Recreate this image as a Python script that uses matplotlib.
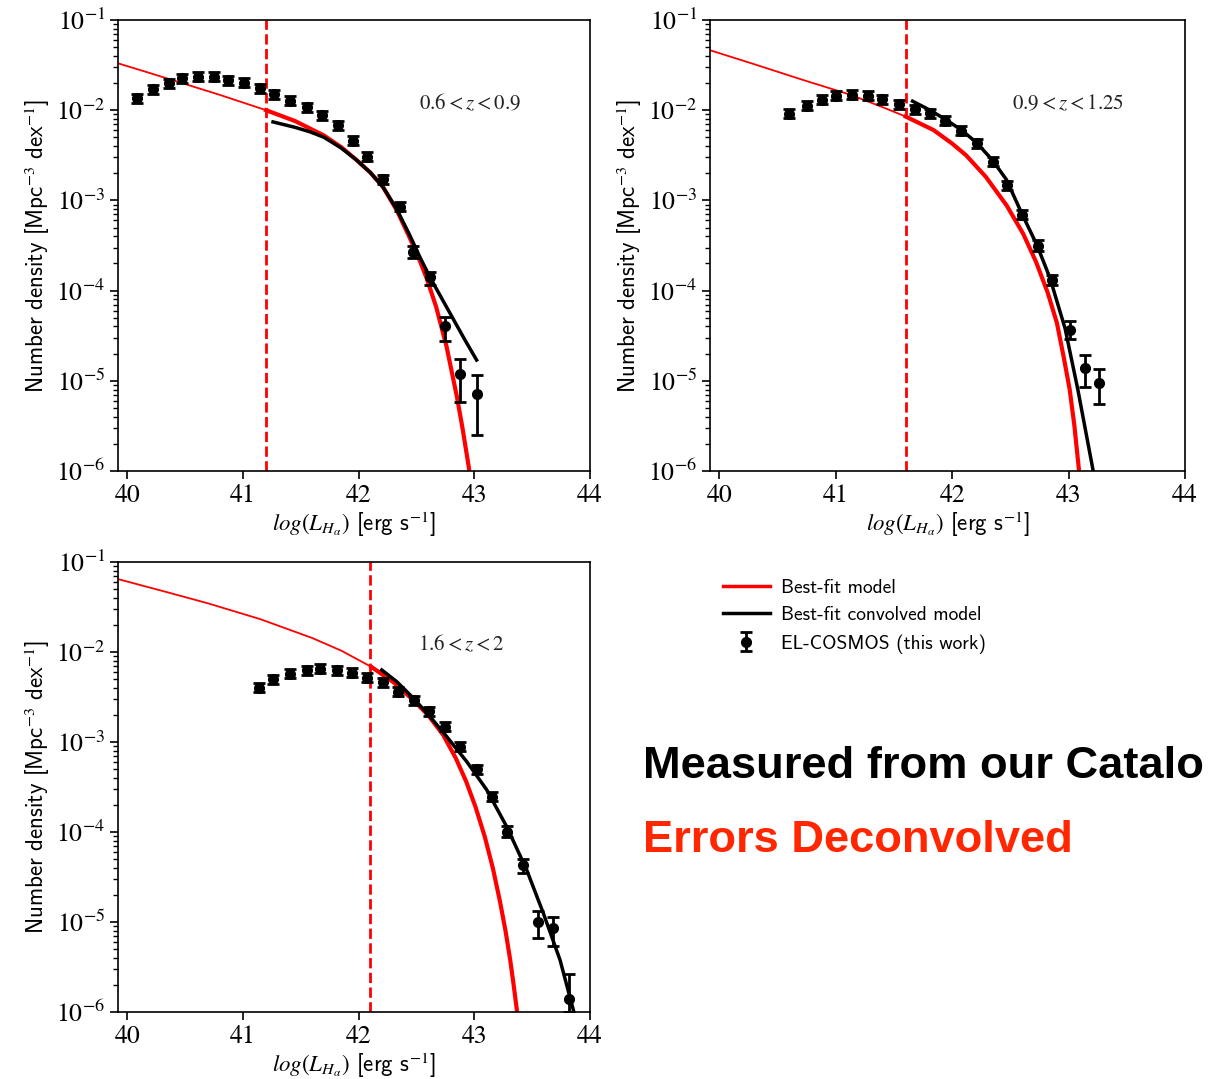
import numpy as np
import matplotlib
matplotlib.use('Agg')
import matplotlib.pyplot as plt
from matplotlib.lines import Line2D

plt.rcParams['font.family'] = ['STIXGeneral', 'DejaVu Sans']
plt.rcParams['mathtext.fontset'] = 'stix'

# ---------------- data ----------------
# Panel 1: 0.6 < z < 0.9
x1 = [40.08, 40.22, 40.36, 40.47, 40.61, 40.75, 40.87, 41.01, 41.15, 41.27, 41.41, 41.55,
      41.68, 41.82, 41.95, 42.07, 42.21, 42.36, 42.47, 42.62, 42.75, 42.88, 43.02]
phi1 = [1.36e-2, 1.71e-2, 1.99e-2, 2.26e-2, 2.35e-2, 2.35e-2, 2.16e-2, 2.02e-2, 1.75e-2,
        1.51e-2, 1.27e-2, 1.08e-2, 8.8e-3, 6.85e-3, 4.56e-3, 3.05e-3, 1.71e-3, 8.5e-4,
        2.66e-4, 1.41e-4, 4.1e-5, 1.19e-5, 7.1e-6]
err1_lo_dex = [0.05] * 18 + [0.065, 0.09, 0.166, 0.313, 0.451]
err1_hi_dex = [0.05] * 18 + [0.065, 0.06, 0.10, 0.167, 0.214]
model1_x = [39.92, 40.2, 40.5, 40.8, 41.0, 41.2, 41.45, 41.7, 41.85, 41.98, 42.1, 42.21,
            42.33, 42.44, 42.52, 42.59, 42.67, 42.76, 42.85, 42.90, 42.95, 42.97]
model1_logphi = [-1.48, -1.59, -1.71, -1.83, -1.915, -2.0, -2.12, -2.28, -2.41, -2.55, -2.69,
                 -2.85, -3.11, -3.41, -3.64, -3.87, -4.18, -4.62, -5.18, -5.54, -5.94, -6.11]
conv1_x = [41.26, 41.45, 41.58, 41.7, 41.85, 41.98, 42.1, 42.21, 42.33, 42.44, 42.53, 42.62,
           42.72, 42.82, 42.92, 43.02]
conv1_logphi = [-2.13, -2.19, -2.24, -2.30, -2.42, -2.55, -2.69, -2.85, -3.10, -3.38, -3.63,
                -3.86, -4.09, -4.32, -4.55, -4.77]
cut1 = 41.2

# Panel 2: 0.9 < z < 1.25
x2 = [40.60, 40.75, 40.88, 41.00, 41.14, 41.28, 41.40, 41.54, 41.68, 41.81, 41.94, 42.08,
      42.21, 42.35, 42.47, 42.60, 42.74, 42.86, 43.01, 43.14, 43.26]
phi2 = [9.1e-3, 1.12e-2, 1.30e-2, 1.44e-2, 1.48e-2, 1.44e-2, 1.32e-2, 1.17e-2, 1.02e-2,
        9.25e-3, 7.66e-3, 5.93e-3, 4.30e-3, 2.69e-3, 1.48e-3, 6.9e-4, 3.15e-4, 1.31e-4,
        3.66e-5, 1.38e-5, 9.5e-6]
err2_lo_dex = [0.05] * 16 + [0.06, 0.06, 0.103, 0.204, 0.236]
err2_hi_dex = [0.05] * 16 + [0.06, 0.06, 0.103, 0.147, 0.152]
model2_x = [39.92, 40.3, 40.72, 41.13, 41.4, 41.6, 41.84, 42.0, 42.12, 42.29, 42.47, 42.61,
            42.72, 42.82, 42.90, 42.96, 43.01, 43.05, 43.09, 43.10]
model2_logphi = [-1.335, -1.49, -1.665, -1.83, -1.965, -2.07, -2.22, -2.37, -2.50, -2.74,
                 -3.06, -3.37, -3.68, -4.02, -4.36, -4.75, -5.10, -5.50, -6.0, -6.12]
conv2_x = [41.66, 41.81, 41.94, 42.08, 42.21, 42.35, 42.466, 42.60, 42.73, 42.84, 42.97,
           43.08, 43.21]
conv2_logphi = [-1.90, -2.00, -2.10, -2.22, -2.36, -2.56, -2.77, -3.15, -3.50, -3.86, -4.42,
                -5.10, -5.99]
cut2 = 41.6

# Panel 3: 1.6 < z < 2
x3 = [41.14, 41.26, 41.41, 41.55, 41.67, 41.81, 41.94, 42.07, 42.21, 42.34, 42.48, 42.61,
      42.75, 42.88, 43.02, 43.15, 43.28, 43.42, 43.55, 43.68, 43.82]
phi3 = [4.0e-3, 5.0e-3, 5.7e-3, 6.3e-3, 6.5e-3, 6.3e-3, 5.9e-3, 5.2e-3, 4.6e-3, 3.6e-3,
        2.9e-3, 2.2e-3, 1.48e-3, 8.9e-4, 5.0e-4, 2.45e-4, 1.01e-4, 4.3e-5, 1.01e-5,
        8.65e-6, 1.39e-6]
err3_lo_dex = [0.05] * 16 + [0.06, 0.085, 0.184, 0.20, 0.141]
err3_hi_dex = [0.05] * 16 + [0.06, 0.064, 0.123, 0.115, 0.278]
model3_x = [39.92, 40.3, 40.7, 41.15, 41.6, 41.85, 42.11, 42.3, 42.46, 42.6, 42.73, 42.84,
            42.93, 43.01, 43.09, 43.16, 43.22, 43.27, 43.31, 43.34, 43.37, 43.39]
model3_logphi = [-1.19, -1.32, -1.46, -1.635, -1.845, -1.985, -2.165, -2.335, -2.52, -2.70,
                 -2.92, -3.18, -3.44, -3.72, -4.05, -4.40, -4.76, -5.10, -5.42, -5.70,
                 -6.0, -6.2]
conv3_x = [42.2, 42.33, 42.474, 42.618, 42.762, 42.935, 43.108, 43.28, 43.453, 43.597,
           43.741, 43.856]
conv3_logphi = [-2.2, -2.33, -2.514, -2.719, -2.941, -3.219, -3.533, -3.941, -4.422, -4.904,
                -5.422, -5.978]
cut3 = 42.1

panel_labels = [r'$0.6 < z < 0.9$', r'$0.9 < z < 1.25$', r'$1.6 < z < 2$']
xticks = [40, 41, 42, 43, 44]

SANS = ['cmss10', 'DejaVu Sans']

fig = plt.figure(figsize=(12.10, 10.79), dpi=100)
W, H = 1210, 1079
def ax_rect(l, r, t, b):
    return [l / W, 1 - b / H, (r - l) / W, (b - t) / H]

axes = [fig.add_axes(ax_rect(118, 590, 20, 471)),
        fig.add_axes(ax_rect(710, 1185, 20, 471)),
        fig.add_axes(ax_rect(118, 590, 562, 1012))]

panels = [
    (x1, phi1, err1_lo_dex, err1_hi_dex, model1_x, model1_logphi, conv1_x, conv1_logphi, cut1),
    (x2, phi2, err2_lo_dex, err2_hi_dex, model2_x, model2_logphi, conv2_x, conv2_logphi, cut2),
    (x3, phi3, err3_lo_dex, err3_hi_dex, model3_x, model3_logphi, conv3_x, conv3_logphi, cut3),
]

label_pos = [(0.745, 0.814), (0.754, 0.814), (0.727, 0.816)]

eb_handle = None
for i, (ax, p) in enumerate(zip(axes, panels)):
    x, phi, elo, ehi, mx, mlp, cx, clp, cut = p
    x = np.array(x); phi = np.array(phi)
    lo = phi - phi * 10 ** (-np.array(elo))
    hi = phi * 10 ** np.array(ehi) - phi
    mx = np.array(mx); mphi = 10 ** np.array(mlp)
    cx = np.array(cx); cphi = 10 ** np.array(clp)

    below = mx <= cut + 0.05
    above = mx >= cut - 0.05
    ax.plot(mx[below], mphi[below], color='red', lw=1.3, zorder=2)
    ax.plot(mx[above], mphi[above], color='red', lw=3.0, zorder=2,
            solid_joinstyle='round')
    ax.plot(cx, cphi, color='black', lw=2.5, zorder=3, solid_joinstyle='round')
    eb = ax.errorbar(x, phi, yerr=[lo, hi], fmt='o', color='black', ms=7,
                     capsize=4, elinewidth=2, capthick=2, zorder=4)
    if eb_handle is None:
        eb_handle = eb
    ax.axvline(cut, color='red', ls='--', lw=2, zorder=1)

    ax.set_yscale('log')
    ax.set_ylim(1e-6, 1e-1)
    ax.set_xlim(39.92, 44.0)
    ax.set_xticks(xticks)
    ax.tick_params(axis='both', which='major', direction='out', length=6, width=1.2,
                   labelsize=18.5, pad=3)
    ax.tick_params(axis='y', which='minor', direction='out', length=3.5, width=1)
    for s in ax.spines.values():
        s.set_linewidth(1.2)
    ax.set_ylabel(r'Number density [Mpc$^{-3}$ dex$^{-1}$]', family=SANS, fontsize=16.5,
                  labelpad=3)
    ax.set_xlabel(r'$log(L_{H_{\alpha}})$ [erg s$^{-1}$]', family=SANS, fontsize=16.5,
                  labelpad=2)
    ax.text(label_pos[i][0], label_pos[i][1], panel_labels[i], transform=ax.transAxes,
            ha='center', va='center', fontsize=15, color='#222222')

handles = [Line2D([], [], color='red', lw=2.5),
           Line2D([], [], color='black', lw=2.5),
           eb_handle]
labels = ['Best-fit model', 'Best-fit convolved model', 'EL-COSMOS (this work)']
fig.legend(handles, labels, loc='upper left', bbox_to_anchor=(0.583, 0.480),
           frameon=False, prop={'family': SANS, 'size': 14}, handlelength=2.4,
           handletextpad=0.6, labelspacing=0.5)

fig.text(643 / W, 1 - 778 / H, 'Measured from our Catalo', fontsize=32.6, fontweight='bold',
         family=['Liberation Sans', 'DejaVu Sans'], color='black', va='baseline', ha='left')
fig.text(643 / W, 1 - 852 / H, 'Errors Deconvolved', fontsize=32.6, fontweight='bold',
         family=['Liberation Sans', 'DejaVu Sans'], color='#ff2600', va='baseline', ha='left')

fig.savefig('out.png', dpi=100)
